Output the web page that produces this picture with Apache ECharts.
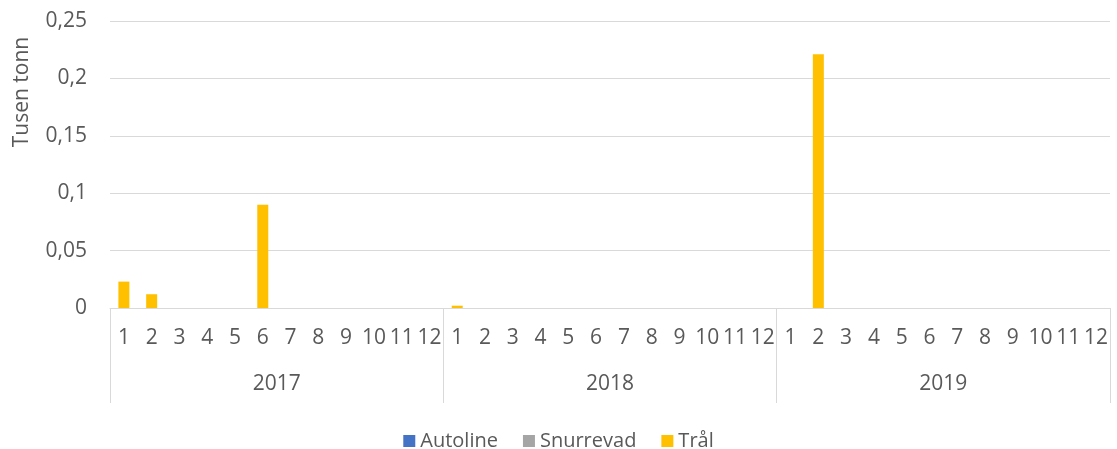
<!DOCTYPE html>
<html>
<head>
<meta charset="utf-8">
<title>Tusen tonn per måned</title>
<script src="https://cdn.jsdelivr.net/npm/echarts@6/dist/echarts.min.js"></script>
<style>
  html, body { margin: 0; padding: 0; background: #ffffff; }
  #chart { width: 1117px; height: 449px; }
</style>
</head>
<body>
<div id="chart"></div>
<script>
// Month and year categories for the two-level x axis
const years = ['2017', '2018', '2019'];
const months = ['1', '2', '3', '4', '5', '6', '7', '8', '9', '10', '11', '12'];

// Catch per month (thousand tonnes), 2017-01 .. 2019-12
const autoline = [
  0, 0, 0, 0, 0, 0, 0, 0, 0, 0, 0, 0,
  0, 0, 0, 0, 0, 0, 0, 0, 0, 0, 0, 0,
  0, 0, 0, 0, 0, 0, 0, 0, 0, 0, 0, 0
];
const snurrevad = [
  0, 0, 0, 0, 0, 0, 0, 0, 0, 0, 0, 0,
  0, 0, 0, 0, 0, 0, 0, 0, 0, 0, 0, 0,
  0, 0, 0, 0, 0, 0, 0, 0, 0, 0, 0, 0
];
const tral = [
  0.023, 0.012, 0, 0, 0, 0.090, 0, 0, 0, 0, 0, 0,
  0.002, 0, 0, 0, 0, 0, 0, 0, 0, 0, 0, 0,
  0, 0.221, 0, 0, 0, 0, 0, 0, 0, 0, 0, 0
];

// Y axis ticks
const yMin = 0, yMax = 0.25, yStep = 0.05;

const monthCategories = [];
years.forEach(y => months.forEach(m => monthCategories.push(m)));

const textColor = '#595959';
const lineColor = '#d9d9d9';
const font = '"Open Sans", "Liberation Sans", sans-serif';

const chart = echarts.init(document.getElementById('chart'), null, { renderer: 'canvas' });

const barBase = { type: 'bar', barWidth: 11, barGap: '-100%', xAxisIndex: 0, yAxisIndex: 0 };

chart.setOption({
  animation: false,
  backgroundColor: '#ffffff',
  textStyle: { fontFamily: font, color: textColor },
  grid: { left: 110, right: 7, top: 21, bottom: 141, containLabel: false },
  graphic: [{
    type: 'text',
    x: 22, y: 92,
    rotation: Math.PI / 2,
    style: {
      text: 'Tusen tonn',
      fill: textColor,
      font: '21px ' + font,
      textAlign: 'center',
      textVerticalAlign: 'middle'
    }
  }],
  legend: {
    top: 426,
    left: 'center',
    icon: 'rect',
    itemWidth: 12,
    itemHeight: 12,
    itemGap: 25,
    textStyle: { fontFamily: font, fontSize: 20, color: textColor },
    data: ['Autoline', 'Snurrevad', 'Trål']
  },
  xAxis: [{
    type: 'category',
    data: monthCategories,
    position: 'bottom',
    axisLine: { show: true, lineStyle: { color: lineColor, width: 1 } },
    axisTick: { show: false },
    axisLabel: { interval: 0, margin: 20, fontSize: 21, color: textColor, fontFamily: font },
    splitLine: { show: false }
  }, {
    type: 'category',
    data: years,
    position: 'bottom',
    boundaryGap: true,
    axisLine: { show: false },
    axisTick: { show: true, length: 95, lineStyle: { color: lineColor, width: 1 } },
    axisLabel: { interval: 0, margin: 66, fontSize: 21, color: textColor, fontFamily: font },
    splitLine: { show: false }
  }],
  yAxis: {
    type: 'value',
    min: yMin,
    max: yMax,
    interval: yStep,
    axisLine: { show: false },
    axisTick: { show: false },
    axisLabel: {
      margin: 23,
      fontSize: 21,
      color: textColor,
      fontFamily: font,
      formatter: v => String(+v.toFixed(2)).replace('.', ',')
    },
    splitLine: { lineStyle: { color: lineColor, width: 1 } }
  },
  series: [
    Object.assign({ name: 'Autoline', data: autoline, itemStyle: { color: '#4472C4' } }, barBase),
    Object.assign({ name: 'Snurrevad', data: snurrevad, itemStyle: { color: '#A5A5A5' } }, barBase),
    Object.assign({ name: 'Trål', data: tral, itemStyle: { color: '#FFC000' } }, barBase)
  ]
});
</script>
</body>
</html>
